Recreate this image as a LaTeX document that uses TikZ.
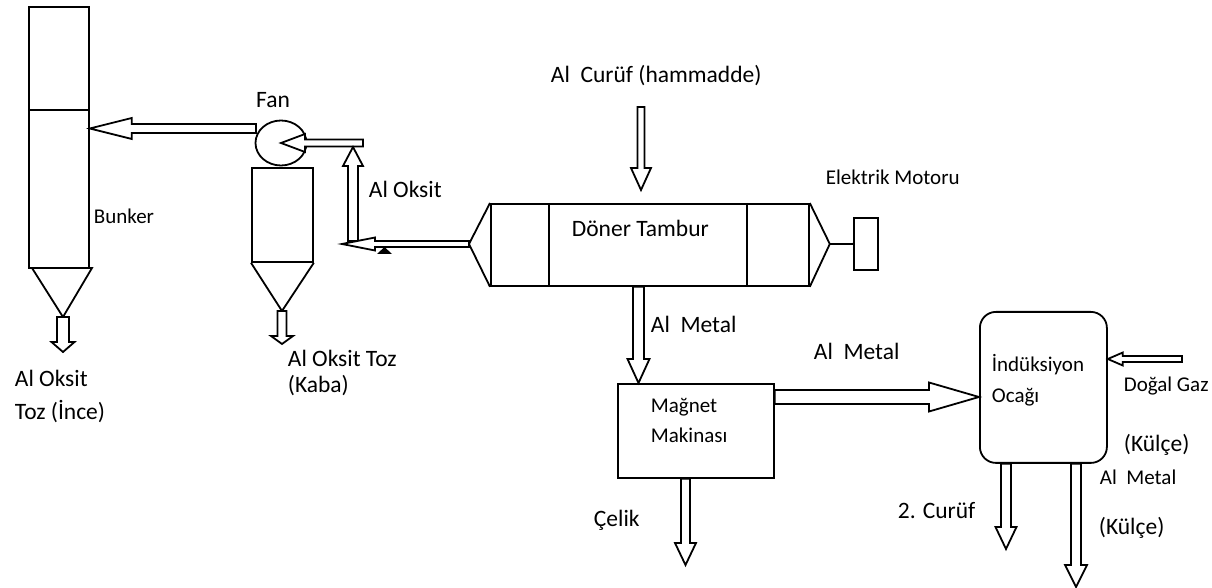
\documentclass[tikz,border=0pt]{standalone}
\usepackage{fontspec}
\setmainfont{Carlito}
\usetikzlibrary{calc,shapes.geometric}

\tikzset{
  fat/.style args={#1/#2/#3}{fill=white, to path={
    let \p1=(\tikztostart), \p2=(\tikztotarget),
        \n1={atan2(\y2-\y1,\x2-\x1)} in
    ($(\p1)+(\n1+90:#1)$) -- ($(\p2)+(\n1:-#3)+(\n1+90:#1)$)
    -- ($(\p2)+(\n1:-#3)+(\n1+90:#2)$) -- (\p2)
    -- ($(\p2)+(\n1:-#3)+(\n1-90:#2)$) -- ($(\p2)+(\n1:-#3)+(\n1-90:#1)$)
    -- ($(\p1)+(\n1-90:#1)$) -- cycle}}
}

\begin{document}
\begin{tikzpicture}[x=0.5pt, y=-0.5pt, line width=0.9pt,
    big/.style={font=\fontsize{11.75}{14}\selectfont, inner sep=0pt},
    small/.style={font=\fontsize{10.5}{13}\selectfont, inner sep=0pt},
    box/.style={draw, inner sep=0pt, anchor=north west}
]
    \useasboundingbox (0,0) rectangle (1212,588);

    % Bunker
    \node[box, minimum width=30pt, minimum height=130.5pt] (bunker) at (28,6) {};
    \draw (bunker.west |- 0,110) -- (bunker.east |- 0,110);
    \coordinate (bapex) at (63,317);
    \draw (32,268) -- (bapex) -- (92,268) -- cycle;
    \node[small, anchor=base west] (bunkerlbl) at (93,224) {Bunker};
    \node[big, anchor=base west, align=left, font=\fontsize{11.75}{16.5}\selectfont] (finelbl) at (14,420) {Al Oksit\\Toz (İnce)};

    % Siklon ve fan
    \node[box, minimum width=30.5pt, minimum height=47pt] (cyclone) at (251,167) {};
    \coordinate (capex) at (282,311);
    \draw (cyclone.south west) -- (capex) -- (cyclone.south east);
    \node[draw, ellipse, inner sep=0pt, minimum width=25.5pt, minimum height=22.5pt, fill=white] (fan) at (281,143) {};
    \node[big, anchor=base] (fanlbl) at (273,108) {Fan};
    \node[big, anchor=base west, align=left, font=\fontsize{11.75}{13}\selectfont] (coarselbl) at (287,393) {Al Oksit Toz\\(Kaba)};
    \node[big, anchor=base west] (oxlbl) at (368,198) {Al Oksit};

    % Döner tambur
    \node[box, minimum width=159pt, minimum height=41pt] (drum) at (490,203) {};
    \draw (drum.north west) -- ++(-21,41) coordinate (drumL) -- (drum.south west);
    \draw (drum.north east) -- ++(20,41) coordinate (drumR) -- (drum.south east);
    \foreach \x in {549,747}
        \draw (\x,203) -- (\x,285);
    \node[big, anchor=base west] (drumlbl) at (571,237) {Döner Tambur};
    \node[big, anchor=base west] (feedlbl) at (550,83) {Al\ \ Curüf (hammadde)};
    \node[box, minimum width=12pt, minimum height=26pt] (motor) at (853,217) {};
    \draw (drumR) -- (motor.west);
    \node[small, anchor=base west] (motorlbl) at (825,185) {Elektrik Motoru};

    % Mağnet ve ocak
    \node[box, minimum width=78pt, minimum height=47pt] (magnet) at (617,383) {};
    \node[small, anchor=base west, align=left, font=\fontsize{10.5}{15}\selectfont] (magnetlbl) at (650,443) {Mağnet\\Makinası};
    \node[box, rounded corners=8pt, minimum width=63.5pt, minimum height=75.5pt] (furnace) at (979,311) {};
    \node[small, anchor=base west, align=left, font=\fontsize{10.5}{15.5}\selectfont] (furnacelbl) at (991,403) {İndüksiyon\\Ocağı};

    \node[big, anchor=base west] (metal1) at (650,333) {Al\ \ Metal};
    \node[big, anchor=base west] (metal2) at (813,360) {Al\ \ Metal};
    \node[big, anchor=base west] (celiklbl) at (593,527) {Çelik};
    \node[big, anchor=base west] (slaglbl) at (897,519) {2. Curüf};
    \node[small, anchor=base west] (gaslbl) at (1123,392) {Doğal Gaz};
    \node[big, anchor=base west] (kulce1) at (1123,452) {(Külçe)};
    \node[small, anchor=base west] (metal3) at (1099,485) {Al\ \ Metal};
    \node[big, anchor=base west] (kulce2) at (1098,535) {(Külçe)};

    % Oklar
    \coordinate (fanout) at (256,128.5);
    \coordinate (fanin) at (363,143);
    \coordinate (oxbot) at (353,241);
    \coordinate (oxtop) at (353,147);
    \coordinate (oxend) at (342,0);
    \coordinate (feed) at (641,107);
    \coordinate (feedend) at (641,190);
    \coordinate (mx) at (638.5,0);
    \coordinate (my) at (0,397);
    \coordinate (celik) at (685.5,565);
    \coordinate (slag) at (1006,549);
    \coordinate (ingot) at (1076,587);
    \coordinate (gas) at (1182,359);
    \coordinate (fineout) at (63,352);
    \coordinate (coarseout) at (282,344);

    \draw[fat=2.25pt/5.25pt/21pt] (fanout) to (bunker.east |- fanout);
    \draw[fat=1.75pt/4.5pt/12pt] (fanin) to (fan.center);
    \draw[fat=2.5pt/5pt/9.5pt] (oxbot) to (oxtop);
    \draw[fat=1.5pt/3.25pt/16.5pt] (drumL) to (oxend |- drumL);
    \fill (377,254) -- (384.5,247) -- (392,254) -- cycle;
    \draw[fat=1.75pt/5pt/11pt] (feed) to (feedend);
    \draw[fat=2.75pt/5.5pt/12pt] (drum.south -| mx) to (magnet.north -| mx);
    \draw[fat=3.5pt/7.25pt/25pt] (magnet.east |- my) to (furnace.west |- my);
    \draw[fat=2.25pt/5.25pt/11pt] (magnet.south -| celik) to (celik);
    \draw[fat=2.5pt/5.25pt/11pt] (furnace.south -| slag) to (slag);
    \draw[fat=2.5pt/5.5pt/11pt] (furnace.south -| ingot) to (ingot);
    \draw[fat=1.5pt/3.25pt/7.5pt] (gas) to (furnace.east |- gas);
    \draw[fat=3pt/5.75pt/5pt] (bapex) to (fineout);
    \draw[fat=2.25pt/5.5pt/4pt] (capex) to (coarseout);
\end{tikzpicture}
\end{document}
